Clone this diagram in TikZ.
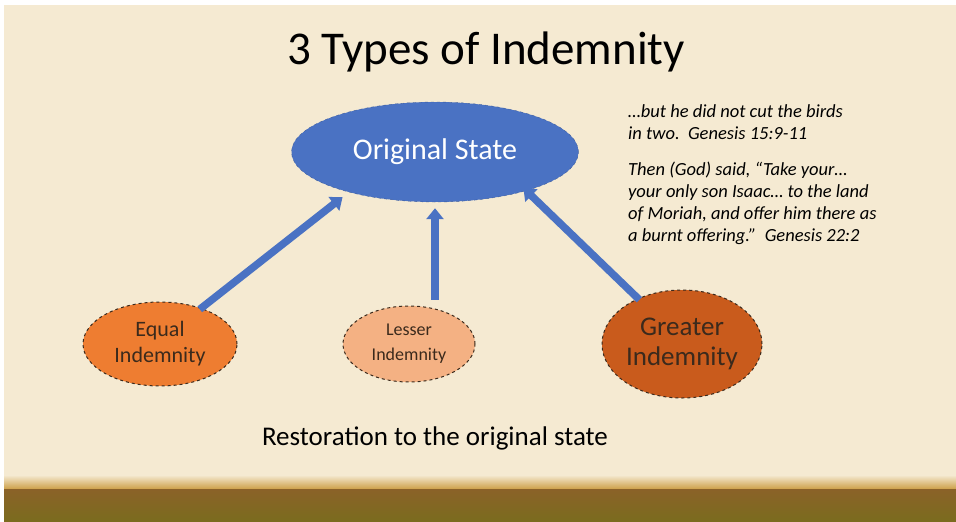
\documentclass[tikz,border=0pt]{standalone}
\usepackage{fontspec}
\setmainfont{Carlito}
\usetikzlibrary{shapes.geometric,arrows.meta}
\definecolor{slidebg}{HTML}{F5EAD2}
\definecolor{stateblue}{HTML}{4A72C3}
\definecolor{equalor}{HTML}{EE7D31}
\definecolor{lesseror}{HTML}{F4B183}
\definecolor{greateror}{HTML}{C95B1C}
\definecolor{rimbrown}{HTML}{3B2A1C}
\begin{document}
\begin{tikzpicture}[x=1pt,y=-1pt,
	blob/.style={ellipse,draw=rimbrown,dashed,line width=1pt,inner sep=0pt,align=center,text=rimbrown},
	verse/.style={anchor=north west,align=left,inner sep=0pt,font=\fontsize{18.5}{22}\selectfont\itshape},
	uparrow/.style={draw=stateblue,line width=7.5pt,-{Triangle[width=17pt,length=11pt]}}]
	% slide
	\useasboundingbox (0,0) rectangle (956,522);
	\fill[white] (0,0) rectangle (956,522);
	\fill[slidebg] (4,5) rectangle (956,480);
	\shade[top color=slidebg,bottom color={rgb,255:red,205;green,160;blue,72}] (4,475) rectangle (956,489);
	\shade[top color={rgb,255:red,139;green,98;blue,40},bottom color={rgb,255:red,122;green,108;blue,30}] (4,489) rectangle (956,522);
	% texts
	\node[font=\fontsize{47}{50}\selectfont] (title) at (486,52) {3 Types of Indemnity};
	\node[font=\fontsize{27}{30}\selectfont] (restore) at (435,438) {Restoration to the original state};
	\node[verse] (birds) at (628,104) {\dots but he did not cut the birds\\ in two.\ \ Genesis 15:9-11};
	\node[verse] (isaac) at (628,162) {Then (God) said, ``Take your\dots\\ your only son Isaac\dots\ to the land\\ of Moriah, and offer him there as\\ a burnt offering.''\ \ Genesis 22:2};
	% ellipses
	\node[ellipse,fill=stateblue,draw=stateblue!80!black,dashed,minimum width=287pt,minimum height=100pt,inner sep=0pt,
		text=white,font=\fontsize{30}{32}\selectfont] (orig) at (435,152) {Original State};
	\node[blob,fill=equalor,minimum width=154pt,minimum height=84pt,font=\fontsize{22}{26}\selectfont]
		(equal) at (160,344) {Equal\\ Indemnity};
	\node[blob,fill=lesseror,minimum width=132pt,minimum height=76pt,font=\fontsize{18}{25}\selectfont]
		(lesser) at (409,344) {Lesser\\ Indemnity};
	\node[blob,fill=greateror,minimum width=160pt,minimum height=108pt,font=\fontsize{27}{30}\selectfont]
		(greater) at (682,344) {Greater\\ Indemnity};
	% arrows
	\draw[uparrow,shorten <=-2pt,shorten >=8pt] (equal.41) -- (orig.205);
	\draw[uparrow,shorten <=6pt,shorten >=6pt] (orig.south |- lesser.north) -- (orig.south);
	\draw[uparrow,shorten <=-2pt,shorten >=-4pt] (greater.134) -- (orig.337);
\end{tikzpicture}
\end{document}
